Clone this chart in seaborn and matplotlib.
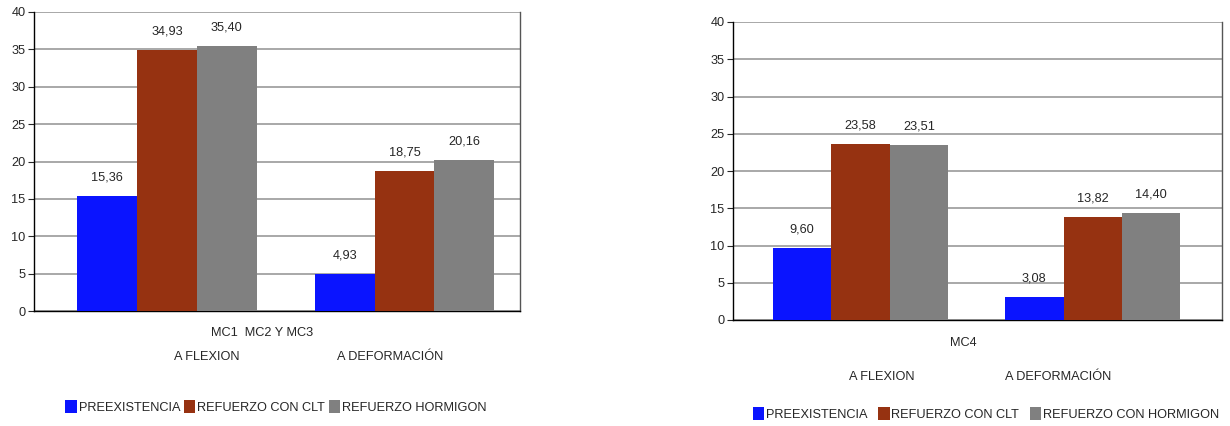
import numpy as np
import pandas as pd
import seaborn as sns
import matplotlib.pyplot as plt
from matplotlib.patches import Patch

# --- datos ---
CATEGORIAS = ["A FLEXION", "A DEFORMACIÓN"]

PRE_MC123 = [15.36, 4.93]
CLT_MC123 = [34.93, 18.75]
HORM_MC123 = [35.40, 20.16]

PRE_MC4 = [9.60, 3.08]
CLT_MC4 = [23.58, 13.82]
HORM_MC4 = [23.51, 14.40]

SERIES_IZQ = ["PREEXISTENCIA", "REFUERZO CON CLT", "REFUERZO HORMIGON"]
SERIES_DER = ["PREEXISTENCIA", "REFUERZO CON CLT", "REFUERZO CON HORMIGON"]
COLORES = ["#0A14FF", "#963211", "#808080"]

sns.set_style("white")
plt.rcParams['font.family'] = ['Liberation Sans', 'DejaVu Sans']
FS = 9.2


def tabla(series, valores):
    filas = []
    for s, vals in zip(series, valores):
        for c, v in zip(CATEGORIAS, vals):
            filas.append({"cat": c, "serie": s, "valor": v})
    return pd.DataFrame(filas)


def panel(fig, rect, df, series, xlim, titulo, y_tit, y_cat, x_cat, leg_pos, colsp):
    ax = fig.add_axes(rect)
    sns.barplot(data=df, x="cat", y="valor", hue="serie", hue_order=series,
                palette=COLORES, width=0.755, gap=0, saturation=1, linewidth=0,
                errorbar=None, ax=ax, legend=False, zorder=3)
    ax.set_ylim(0, 40)
    ax.set_xlim(*xlim)
    ax.set_yticks(range(0, 41, 5))
    ax.tick_params(axis="y", labelsize=FS, length=4, width=0.8, direction="out",
                   left=True, pad=2)
    ax.set_xticks([])
    ax.set_xlabel("")
    ax.set_ylabel("")
    ax.grid(axis="y", color="#9a9a9a", linewidth=1.2, zorder=0)
    for s in ["left", "bottom"]:
        ax.spines[s].set_color("black")
        ax.spines[s].set_linewidth(1.0)
    ax.spines["top"].set_visible(False)
    ax.spines["right"].set_color("#555555")
    ax.spines["right"].set_linewidth(1.0)

    for cont in ax.containers:
        etiquetas = [f"{v:.2f}".replace(".", ",") for v in cont.datavalues]
        ax.bar_label(cont, labels=etiquetas, padding=9, fontsize=FS)

    ax.text(0.47, y_tit, titulo, transform=ax.transAxes, ha="center",
            va="center", fontsize=FS)
    for xc, cat in zip(x_cat, CATEGORIAS):
        ax.text(xc, y_cat, cat, transform=ax.transAxes, ha="center",
                va="center", fontsize=FS)

    handles = [Patch(facecolor=c, edgecolor="none") for c in COLORES]
    fig.legend(handles, series, loc="center", bbox_to_anchor=leg_pos, ncol=3,
               frameon=False, fontsize=FS, handlelength=0.9, handleheight=1.1,
               handletextpad=0.15, columnspacing=colsp)
    return ax


fig = plt.figure(figsize=(12.3, 4.26), dpi=100)

df_izq = tabla(SERIES_IZQ, [PRE_MC123, CLT_MC123, HORM_MC123])
df_der = tabla(SERIES_DER, [PRE_MC4, CLT_MC4, HORM_MC4])

# panel izquierdo: eje x 34..520 px, y 12..311 px
panel(fig, [34 / 1230, 1 - 311 / 426, 486 / 1230, 299 / 426], df_izq, SERIES_IZQ,
      (-0.56, 1.486), "MC1  MC2 Y MC3", -0.075, -0.155, [0.356, 0.732],
      (276 / 1230, 1 - 407 / 426), 0.3)

# panel derecho: eje x 733..1222 px, y 22..320 px
panel(fig, [733 / 1230, 1 - 320 / 426, 489 / 1230, 298 / 426], df_der, SERIES_DER,
      (-0.55, 1.557), "MC4", -0.078, -0.192, [0.305, 0.664],
      (986 / 1230, 1 - 414 / 426), 0.8)

fig.savefig("out.png", dpi=100)
